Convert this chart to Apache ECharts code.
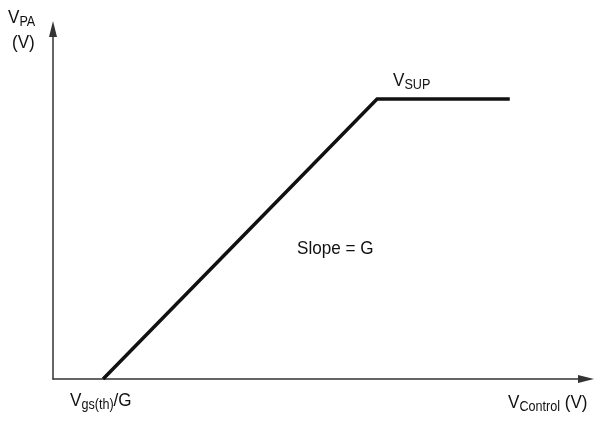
<!DOCTYPE html>
<html>
<head>
<meta charset="utf-8">
<script src="https://cdn.jsdelivr.net/npm/echarts@6/dist/echarts.min.js"></script>
<style>
  html, body { margin: 0; padding: 0; background: #fff; }
  #chart { width: 597px; height: 424px; }
</style>
</head>
<body>
<div id="chart"></div>
<script>
'use strict';

// transfer curve: threshold, linear ramp (slope G), clamp at V_SUP
const vControl = [0.94, 6.08, 8.57];
const vPA = [0, 8.0, 8.0];
const X_MAX = 10.0;
const Y_MAX = 10.0;

const FONT = '"Liberation Sans", Arial, sans-serif';
const SQUEEZE = 0.9; // narrow-ish look of the original lettering

const chart = echarts.init(document.getElementById('chart'));

const rich = {
  v: { fontFamily: FONT, fontSize: 19, color: '#111' },
  s: { fontFamily: FONT, fontSize: 14, color: '#111', padding: [10, 0, 0, 0] },
};

function label(left, top, text) {
  return {
    type: 'text',
    left,
    top,
    scaleX: SQUEEZE,
    style: { text, rich, fontFamily: FONT, fontSize: 19, fill: '#111' },
  };
}

function arrowAxis(max) {
  return {
    type: 'value',
    min: 0,
    max,
    axisLine: {
      show: true,
      symbol: ['none', 'triangle'],
      symbolSize: [8, 16],
      lineStyle: { color: '#333', width: 1.5 },
    },
    axisTick: { show: false },
    axisLabel: { show: false },
    splitLine: { show: false },
  };
}

chart.setOption({
  animation: false,
  backgroundColor: '#fff',
  grid: { left: 53, right: 11, top: 29, bottom: 45 },
  xAxis: arrowAxis(X_MAX),
  yAxis: arrowAxis(Y_MAX),
  series: [{
    type: 'line',
    data: vControl.map((x, i) => [x, vPA[i]]),
    showSymbol: false,
    lineStyle: { color: '#111', width: 3.5, cap: 'butt', join: 'miter' },
  }],
  graphic: [
    label(8, 8, '{v|V}{s|PA}'),
    label(12, 33, '(V)'),
    label(70, 391, '{v|V}{s|gs(th)}{v|/G}'),
    label(508, 393, '{v|V}{s|Control}{v| (V)}'),
    label(393, 71, '{v|V}{s|SUP}'),
    label(297, 239, 'Slope = G'),
  ],
});
</script>
</body>
</html>
